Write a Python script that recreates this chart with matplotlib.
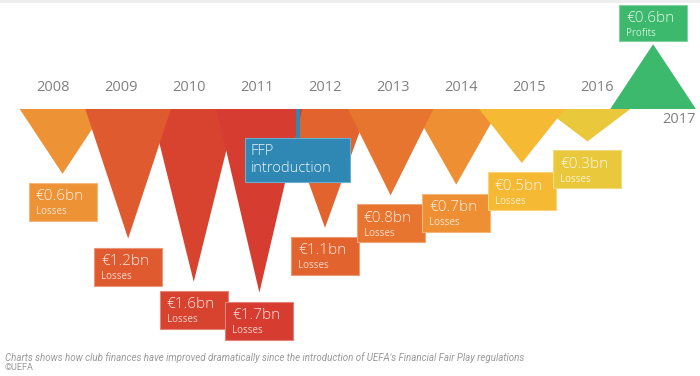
import matplotlib.pyplot as plt
from matplotlib.patches import Polygon, Rectangle
from matplotlib.colors import to_rgb

plt.rcParams['font.family'] = ['Open Sans', 'DejaVu Sans']

years = ['2008', '2009', '2010', '2011', '2012', '2013', '2014', '2015', '2016', '2017']
values = [-0.6, -1.2, -1.6, -1.7, -1.1, -0.8, -0.7, -0.5, -0.3, 0.6]   # €bn, negative = losses
amounts = ['€0.6bn', '€1.2bn', '€1.6bn', '€1.7bn', '€1.1bn', '€0.8bn', '€0.7bn', '€0.5bn', '€0.3bn', '€0.6bn']
kinds = ['Losses'] * 9 + ['Profits']
colors = ['#EE9236', '#E05A2F', '#D7432F', '#D63C30', '#E3632E', '#E8752F',
          '#EE8F33', '#F6B933', '#E9C83B', '#3CB96C']
ffp_color = '#2F88B4'

# 1 x unit = 68 px, 1 y unit (bn) = 108 px
px_x = 68.0
px_y = 108.0
fig = plt.figure(figsize=(7, 3.76), dpi=100)
ax = fig.add_axes([0, 0, 1, 1])
ax.set_xlim(-53 / px_x, (700 - 53) / px_x)
ax.set_ylim(-(376 - 109) / px_y, 109 / px_y)
ax.axis('off')

hw = 0.63
box_w = 68 / px_x
box_h = 38 / px_y
gap = 9 / px_y


def lighten(c, f):
    r, g, b = to_rgb(c)
    return (r + (1 - r) * f, g + (1 - g) * f, b + (1 - b) * f)


for i, (yr, v) in enumerate(zip(years, values)):
    cx = 0.14 + 0.965 * i
    # odd years sit on top of their neighbours
    z = 3 if i % 2 == 1 else 2
    tri = Polygon([(cx - hw, 0), (cx + hw, 0), (cx, v)], closed=True,
                  facecolor=colors[i], edgecolor='none', zorder=z)
    ax.add_patch(tri)

    if v < 0:
        top = v - gap
        bh = box_h
        ax.text(i, 0.2, yr, ha='center', va='center', fontsize=10.5, color='#808080')
    else:
        bh = box_h * 0.95
        top = v + 0.03 + bh
        ax.text(i + 0.2, -0.1, yr, ha='center', va='center', fontsize=10.5, color='#808080')
    left = cx - box_w / 2
    ax.add_patch(Rectangle((left, top - bh), box_w, bh, facecolor=colors[i],
                           edgecolor=lighten(colors[i], 0.35), lw=0.8, zorder=5))
    ax.text(left + 7 / px_x, top - 14 / px_y, amounts[i], ha='left', va='center',
            fontsize=11, color='white', alpha=0.85, zorder=6, fontweight='light')
    ax.text(left + 7 / px_x, top - 29 / px_y, kinds[i], ha='left', va='center',
            fontsize=7, color='white', alpha=0.75, zorder=6)

# FFP introduction marker
ffp_x = (298 - 53) / px_x
ax.plot([ffp_x, ffp_x], [0, -30 / px_y], color=ffp_color, lw=3, zorder=7,
        solid_capstyle='butt')
ax.add_patch(Rectangle(((245 - 53) / px_x, -(182 - 109) / px_y), 105 / px_x, 44 / px_y,
                       facecolor=ffp_color, edgecolor=lighten(ffp_color, 0.3), lw=0.8, zorder=7))
ax.text((251 - 53) / px_x, -(151 - 109) / px_y, 'FFP', ha='left', va='center',
        fontsize=10.5, color='white', alpha=0.9, zorder=8, fontweight='light')
ax.text((251 - 53) / px_x, -(168 - 109) / px_y, 'introduction', ha='left', va='center',
        fontsize=10.5, color='white', alpha=0.9, zorder=8, fontweight='light')

# faint top shadow
fig.patches.append(Rectangle((0, 1 - 3 / 376), 1, 3 / 376, transform=fig.transFigure,
                             facecolor='#EEEEEE', edgecolor='none'))

fig.text(5 / 700, 1 - 358 / 376,
         "Charts shows how club finances have improved dramatically since the introduction of UEFA's Financial Fair Play regulations",
         ha='left', va='center', fontsize=7, style='italic', color='#9A9A9A', family=['Roboto', 'DejaVu Sans'])
fig.text(5 / 700, 1 - 368 / 376, '©UEFA', ha='left', va='center', fontsize=6.5,
         color='#9A9A9A', family=['Roboto', 'DejaVu Sans'])

fig.savefig('out.png', dpi=100)
